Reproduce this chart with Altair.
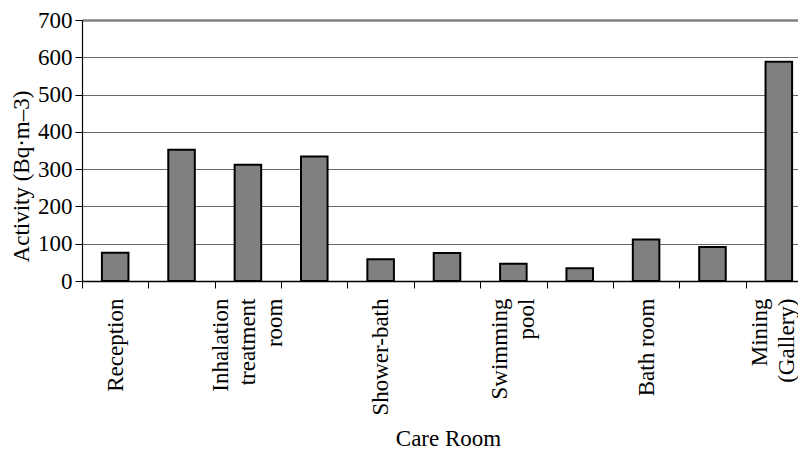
import json
import altair as alt
import pandas as pd

# Data
positions = [1, 2, 3, 4, 5, 6, 7, 8, 9, 10, 11]
tick_labels = ["Reception", "", "Inhalation|treatment|room", "", "Shower-bath", "",
               "Swimming|pool", "", "Bath room", "", "Mining|(Gallery)"]
values = [76, 352, 312, 334, 58, 75, 46, 34, 111, 91, 588]
y_ticks = [0, 100, 200, 300, 400, 500, 600, 700]

df = pd.DataFrame({"pos": positions, "label": tick_labels, "value": values})

label_expr = "split(" + json.dumps(tick_labels) + "[datum.value - 1], '|')"

FONT = "Liberation Serif"
RANGE = 730
HALF_STEP = RANGE / len(positions) / 2
LINE_H = 27
EDGE_NUDGE = {11: -6}  # keep the last label inside the canvas

# centre multi-line label blocks on their tick
offset_conditions = []
for p, lab in zip(positions, tick_labels):
    n = len(lab.split("|"))
    if n > 1:
        offset_conditions.append(
            {"test": f"datum.value === {p}",
             "value": HALF_STEP - (n - 1) * LINE_H / 2 + EDGE_NUDGE.get(p, 0)}
        )

chart = alt.Chart(df).mark_bar(
    color="#808080", stroke="black", strokeWidth=2
).encode(
    x=alt.X(
        "pos:O",
        scale=alt.Scale(range=[0, RANGE], paddingInner=0.6, paddingOuter=0.3),
        axis=alt.Axis(
            title="Care Room",
            labelExpr=label_expr,
            labelAngle=270,
            labelAlign="right",
            labelBaseline="middle",
            labelPadding=10,
            labelFont=FONT,
            labelFontSize=23,
            labelLineHeight=LINE_H,
            labelColor="black",
            labelLimit=300,
            labelOverlap=False,
            tickOffset=-HALF_STEP,
            labelOffset={"condition": offset_conditions, "value": HALF_STEP},
            tickSize=7,
            tickColor="black",
            domainColor="black",
            domainWidth=1.5,
            grid=False,
            titleFont=FONT,
            titleFontSize=23,
            titleFontWeight="normal",
            titleColor="black",
            titleX=366,
            titleY=157,
            titleAlign="center",
            titleBaseline="middle",
        ),
    ),
    y=alt.Y(
        "value:Q",
        scale=alt.Scale(domain=[0, 700], nice=False),
        axis=alt.Axis(
            title="Activity (Bq·m–3)",
            values=y_ticks,
            labelFont=FONT,
            labelFontSize=23,
            labelColor="black",
            labelPadding=3,
            tickSize=7,
            tickColor="black",
            domainColor="black",
            domainWidth=1.2,
            grid=True,
            gridColor={"condition": {"test": "datum.value === 700", "value": "#808080"}, "value": "#6a6a6a"},
            gridWidth={"condition": {"test": "datum.value === 700", "value": 2.5}, "value": 1},
            titleFont=FONT,
            titleFontSize=23,
            titleFontWeight="normal",
            titleColor="black",
            titleAngle=270,
            titleX=-61,
            titleY=156,
            titleAlign="center",
            titleBaseline="middle",
        ),
    ),
).properties(
    width=716,
    height=261,
    autosize=alt.AutoSizeParams(type="none"),
    padding={"left": 74, "top": 12, "right": 0, "bottom": 170},
).configure_view(stroke=None)

chart.save("out.html", embed_options={"renderer": "svg", "actions": False})
